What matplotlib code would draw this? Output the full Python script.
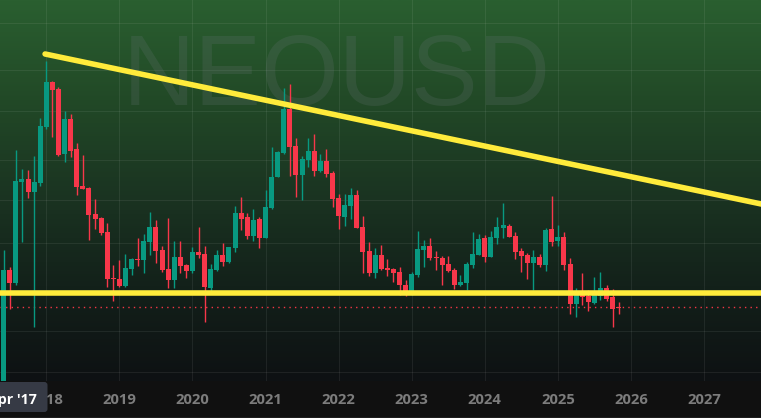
import numpy as np
import matplotlib
matplotlib.use("Agg")
import matplotlib.pyplot as plt
from matplotlib.colors import LinearSegmentedColormap
from matplotlib.patches import FancyBboxPatch

# The chart shows no price scale: levels are chart rows (smaller = higher).
first_month = -7  # months relative to Jan 2018
opens = [395,270,283,182,179,192,183,
         127,82,89,154,119,149,186,188,214,218,232,278,
         279,286,269,259,260,242,227,250,269,280,257,265,
         271,252,254,288,270,255,262,248,213,217,236,219,
         238,208,177,153,109,146,175,160,151,171,161,173,
         198,217,206,195,227,251,273,255,268,269,272,285,
         295,275,250,246,257,258,264,270,285,283,265,255,
         238,257,238,228,226,236,251,255,263,257,265,229,
         241,237,264,304,294,296,303,296,288,297,307]
highs = [250,267,150,169,170,156,118,
         61,81,87,111,114,143,155,187,199,217,223,265,
         260,254,258,238,234,212,220,246,218,241,241,264,
         247,227,246,264,250,243,247,206,197,213,209,217,
         190,147,151,88,84,138,156,138,134,154,149,171,
         194,194,188,190,216,242,248,245,259,268,267,280,
         272,231,240,238,251,256,256,268,275,262,232,234,
         235,231,217,203,224,232,248,253,250,254,228,196,
         225,232,258,288,273,290,277,272,285,289,302]
lows = [395,309,285,242,198,327,186,
        129,137,156,162,157,195,189,240,229,235,287,301,
        287,287,275,266,273,255,263,272,288,288,273,278,
        273,258,322,291,271,266,263,252,230,239,241,248,
        238,209,177,154,176,197,200,167,176,172,177,207,
        229,226,219,228,273,276,278,270,276,282,295,296,
        295,277,267,260,270,285,272,289,286,290,268,255,
        262,257,244,238,237,259,272,279,290,267,271,246,
        246,270,314,317,305,311,304,300,301,327,314]
closes = [270,283,181,179,192,182,126,
          82,90,155,119,151,187,189,215,219,233,279,279,
          286,268,259,260,241,227,251,270,280,257,266,271,
          252,255,287,269,255,262,247,213,219,236,220,238,
          207,177,152,109,147,175,159,151,171,161,174,199,
          216,205,195,228,252,273,255,269,270,273,285,294,
          274,249,246,258,258,265,271,285,282,264,254,239,
          257,237,227,225,237,252,256,263,257,265,230,242,
          237,265,304,295,297,302,295,288,299,309,308]

years = ["2018", "2019", "2020", "2021", "2022", "2023", "2024", "2025", "2026", "2027"]
year_months = [0, 12, 24, 36, 48, 60, 72, 84, 96, 108]
grid_rows = [23, 70, 111, 160, 200, 243, 290, 331, 372]
support_level = 293
last_level = 307
trend_months = [-0.2, 117.4]
trend_levels = [54, 204]
symbol = "NEOUSD"
cursor_label = "Apr '17"

MONTH_PX = 6.09
X0 = 46.3
W, H = 761, 418
BAND = 381

fig = plt.figure(figsize=(W / 100, H / 100), dpi=100, facecolor="#101010")
ax = fig.add_axes([0, 0, 1, 1])
ax.set_xlim(-X0 / MONTH_PX, (W - X0) / MONTH_PX)
ax.set_ylim(H, 0)
ax.axis("off")

cmap = LinearSegmentedColormap.from_list(
    "bg", [(0.0, "#2a5f30"), (0.25, "#224a27"), (0.5, "#1b3522"), (0.75, "#13211a"), (1.0, "#0e1113")])
grad = np.linspace(0, 1, 256).reshape(-1, 1)
xl = ax.get_xlim()
ax.imshow(grad, cmap=cmap, extent=[xl[0], xl[1], BAND, 0], aspect="auto", zorder=0)
ax.set_xlim(xl)
ax.set_ylim(H, 0)

for r in grid_rows:
    ax.plot(xl, [r, r], color="white", alpha=0.07, lw=0.8, zorder=1, snap=True)
for m in year_months:
    ax.plot([m, m], [0, BAND], color="white", alpha=0.07, lw=0.8, zorder=1, snap=True)

ax.text((337 - X0) / MONTH_PX, 105, symbol, fontsize=72, family="Liberation Sans", color="#787b86",
        alpha=0.18, ha="center", va="baseline", zorder=1.5)

ax.plot(xl, [last_level, last_level], color="#f23645", lw=1, ls=(0, (1, 3)), zorder=2, snap=True)

UP, DOWN = "#089981", "#f7374a"
for i, (o, h, l, c) in enumerate(zip(opens, highs, lows, closes)):
    m = first_month + i
    col = UP if c < o else DOWN
    wick = ax.vlines(m, h, l, color=col, lw=1.0, zorder=3)
    wick.set_snap(True)
    top, bot = min(o, c), max(o, c)
    ax.bar(m, max(bot - top, 1), bottom=top, width=5 / MONTH_PX, color=col, lw=0, zorder=3)

ax.plot(xl, [support_level, support_level], color="#ffeb3b", lw=4, zorder=4, solid_capstyle="butt")
ax.plot(trend_months, trend_levels, color="#ffeb3b", lw=4, zorder=4, solid_capstyle="round")

# time-axis strip
ax.fill_between(xl, BAND, H, color="#101010", lw=0, zorder=5)
ax.plot(xl, [417, 417], color="#1e1e1e", lw=0.8, zorder=5.5, snap=True)
for m, lab in zip(year_months, years):
    ax.text(m, 404, lab, ha="center", va="baseline", fontsize=10.7, family="Open Sans",
            fontweight="bold", color="#7c7c7c", zorder=6)

px_x = lambda p: (p - X0) / MONTH_PX
ax.add_patch(FancyBboxPatch((px_x(-6), 382), px_x(47.5) - px_x(-6), 30,
                            boxstyle="round,pad=0,rounding_size=0.5", mutation_aspect=MONTH_PX,
                            fc="#363a45", ec="none", zorder=7))
ax.text(px_x(37), 404, cursor_label, ha="right", va="baseline", fontsize=10.2, family="Open Sans",
        fontweight="bold", color="white", zorder=8)

fig.savefig("out.png", dpi=100, facecolor=fig.get_facecolor())
